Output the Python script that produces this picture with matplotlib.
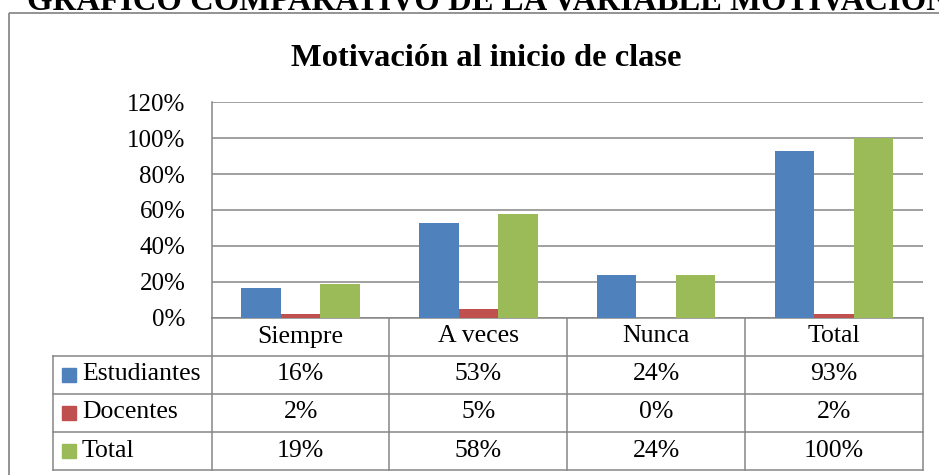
import matplotlib
matplotlib.use('Agg')
import matplotlib.pyplot as plt
from matplotlib.patches import Rectangle

# Datos del grafico
categorias = ['Siempre', 'A veces', 'Nunca', 'Total']
series = ['Estudiantes', 'Docentes', 'Total']
estudiantes = [16.2, 52.8, 23.6, 93.0]
docentes = [2.2, 4.6, 0.0, 2.2]
total = [18.8, 57.6, 23.6, 100.0]
yticks = [0, 20, 40, 60, 80, 100, 120]

colores = ['#4F81BD', '#C0504D', '#9BBB59']
gris = '#868686'

W, H = 939, 475
plt.rcParams['font.family'] = ['Liberation Serif', 'DejaVu Serif']

fig = plt.figure(figsize=(W / 100, H / 100), dpi=100)

# capa de fondo en pixeles (titulo, marco, tabla)
bg = fig.add_axes([0, 0, 1, 1])
bg.set_xlim(0, W)
bg.set_ylim(H, 0)
bg.axis('off')

# area de trazado
x0, x1, y0, y1 = 211.7, 922.7, 102.3, 317.5
ax = fig.add_axes([x0 / W, (H - y1) / H, (x1 - x0) / W, (y1 - y0) / H])

valores = [estudiantes, docentes, total]
ancho = 0.222
for k, (vals, c) in enumerate(zip(valores, colores)):
    xs = [i + (k - 1) * ancho for i in range(len(categorias))]
    ax.bar(xs, vals, width=ancho, color=c, edgecolor='none', zorder=3)

ax.set_xlim(-0.5, len(categorias) - 0.5)
ax.set_ylim(0, 120)
ax.set_yticks(yticks)
ax.set_yticklabels([f'{t}%' for t in yticks])
ax.set_xticks([])
ax.tick_params(axis='y', length=0, pad=19, labelsize=18)
ax.grid(axis='y', color=gris, lw=1.1, zorder=0)
ax.spines['top'].set_visible(False)
ax.spines['right'].set_visible(False)
ax.spines['left'].set_color(gris)
ax.spines['bottom'].set_color(gris)
ax.spines['left'].set_linewidth(1.1)
ax.spines['bottom'].set_linewidth(1.1)

# encabezado cortado por arriba, como en la imagen original
bg.text(27, 10.5, 'GRAFICO COMPARATIVO DE LA VARIABLE MOTIVACIÓN', fontsize=23.6,
        fontweight='bold', ha='left', va='baseline')
bg.text(486, 66, 'Motivación al inicio de clase', fontsize=23.4,
        fontweight='bold', ha='center', va='baseline')

# marco exterior
bg.add_patch(Rectangle((8.5, 12.7), W + 20, H + 20, fill=False,
                       edgecolor='#8a8a8a', lw=1.3, clip_on=False))

# tabla de datos
filas = [y1, 355.5, 393.5, 431.5, 470]
paso = (x1 - x0) / len(categorias)
cols = [x0 + i * paso for i in range(len(categorias) + 1)]
izq = 53

for cx in cols:
    bg.plot([cx, cx], [filas[0], filas[-1]], color=gris, lw=1.1)
bg.plot([izq, izq], [filas[1], filas[-1]], color=gris, lw=1.1)
for fy in filas[1:]:
    bg.plot([izq, x1], [fy, fy], color=gris, lw=1.1)

for i, cat in enumerate(categorias):
    bg.text(cols[i] + paso / 2, (filas[0] + filas[1]) / 2, cat, fontsize=18.5,
            ha='center', va='center')

for r, (nombre, vals, c) in enumerate(zip(series, valores, colores)):
    yc = (filas[r + 1] + filas[r + 2]) / 2
    bg.add_patch(Rectangle((62, yc - 7), 14, 14, color=c))
    bg.text(82, yc, nombre, fontsize=18.5, ha='left', va='center')
    for i, v in enumerate(vals):
        bg.text(cols[i] + paso / 2, yc, f'{v:.0f}%', fontsize=18.5,
                ha='center', va='center')

fig.savefig('out.png', dpi=100)
